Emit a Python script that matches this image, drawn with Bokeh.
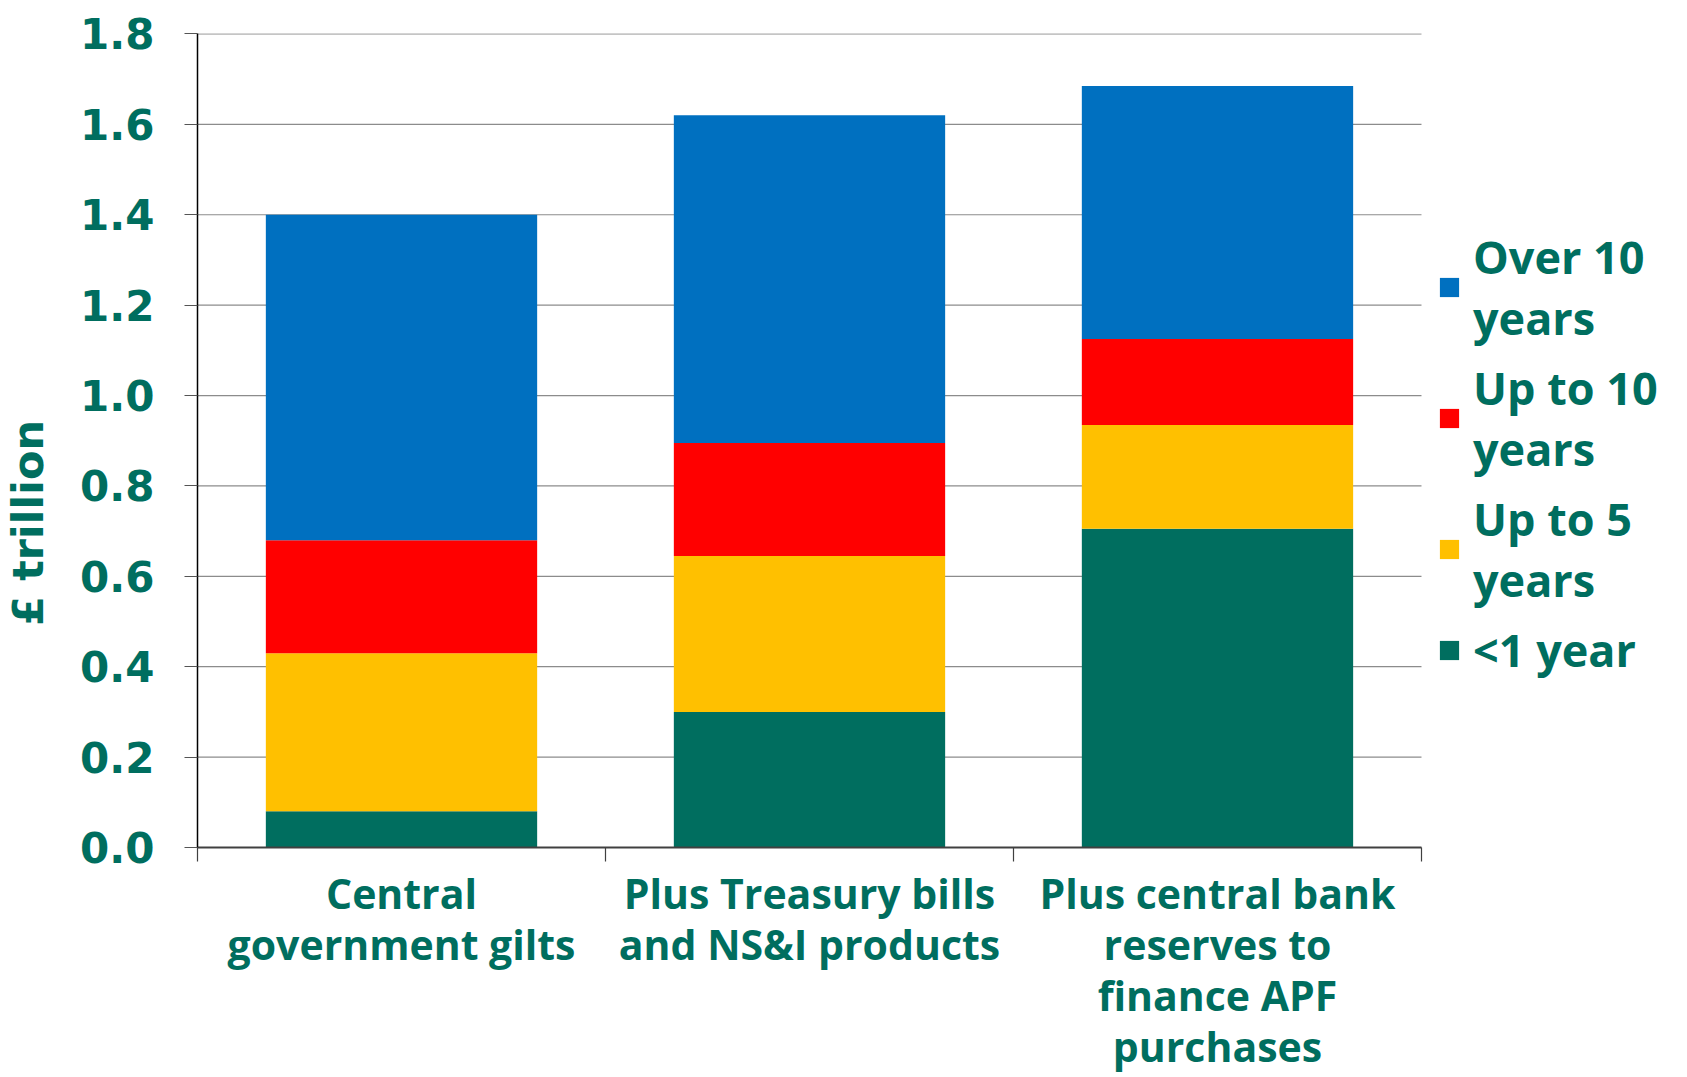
from bokeh.plotting import figure
from bokeh.models import ColumnDataSource, Range1d, FixedTicker, Legend, LegendItem, PrintfTickFormatter
from bokeh.embed import file_html
from bokeh.resources import INLINE

categories = ["Central\ngovernment gilts",
              "Plus Treasury bills\nand NS&I products",
              "Plus central bank\nreserves to\nfinance APF\npurchases"]
series = ["lt1", "up5", "up10", "over10"]
legend_labels = ["<1 year", "Up to 5\nyears", "Up to 10\nyears", "Over 10\nyears"]
lt1 = [0.08, 0.30, 0.705]
up5 = [0.35, 0.345, 0.23]
up10 = [0.25, 0.25, 0.19]
over10 = [0.72, 0.725, 0.56]
colors = ["#006E5F", "#FFC000", "#FF0000", "#0070C0"]
yticks = [0.0, 0.2, 0.4, 0.6, 0.8, 1.0, 1.2, 1.4, 1.6, 1.8]
y_title = "£ trillion"

GREEN = "#006E5F"
FONT = "DejaVu Sans"
CAT_FONT = "Open Sans"

n = len(categories)
xpos = [i + 0.5 for i in range(n)]
bounds = [i for i in range(n + 1)]
src = ColumnDataSource(dict(x=xpos, lt1=lt1, up5=up5, up10=up10, over10=over10))

# frame runs to the right edge so the legend can sit beside the bars
p = figure(width=1687, height=1077, x_range=Range1d(0, 3.652), y_range=Range1d(0, 1.801),
           output_backend="svg", toolbar_location=None,
           min_border_left=197, min_border_right=0, min_border_top=33, min_border_bottom=226)
p.outline_line_color = None
p.background_fill_color = "white"
p.xgrid.grid_line_color = None
p.ygrid.grid_line_color = None

# horizontal grid lines spanning only the category area
p.segment(x0=0, x1=n, y0=yticks, y1=yticks, line_color="#8C8C8C", line_width=1.2)

renderers = p.vbar_stack(series, x="x", width=0.665, source=src, color=colors, line_color=None)

# x axis: labels at centres, tick marks at category boundaries (minor ticks)
xa = p.xaxis[0]
xa.bounds = (0, n)
xa.ticker = FixedTicker(ticks=xpos, minor_ticks=bounds)
xa.major_tick_out = 0
xa.major_tick_in = 0
xa.minor_tick_out = 14
xa.minor_tick_in = 0
xa.minor_tick_line_color = "#404040"
xa.minor_tick_line_width = 1.2
xa.major_label_overrides = {x: c for x, c in zip(xpos, categories)}
xa.major_label_text_font = CAT_FONT
xa.major_label_text_font_style = "bold"
xa.major_label_text_font_size = "41px"
xa.major_label_text_color = GREEN
xa.major_label_text_line_height = 0.915
xa.major_label_standoff = 3
xa.axis_line_color = "#404040"
xa.axis_line_width = 2

# y axis
ya = p.yaxis[0]
ya.ticker = FixedTicker(ticks=yticks)
ya.formatter = PrintfTickFormatter(format="%.1f")
ya.major_tick_out = 13
ya.major_tick_in = 0
ya.minor_tick_out = 0
ya.minor_tick_in = 0
ya.axis_line_color = "black"
ya.axis_line_width = 1.5
ya.major_tick_line_color = "#555555"
ya.major_label_text_font = FONT
ya.major_label_text_font_style = "bold"
ya.major_label_text_font_size = "42px"
ya.major_label_text_color = GREEN
ya.major_label_standoff = 30
# trailing no-break spaces push the rotated title lower, as in the original
ya.axis_label = y_title + "\u00a0" * 11
ya.axis_label_text_font = FONT
ya.axis_label_text_font_style = "bold"
ya.axis_label_text_font_size = "43px"
ya.axis_label_text_color = GREEN
ya.axis_label_standoff = 24

# legend
items = [LegendItem(label=legend_labels[i], renderers=[renderers[i]]) for i in reversed(range(4))]
legend = Legend(items=items, location=(1240, 167), padding=0, margin=0, spacing=9,
                glyph_width=24, glyph_height=24, label_standoff=12,
                label_text_font=CAT_FONT, label_text_font_style="bold", label_text_font_size="45px",
                label_text_color=GREEN,
                border_line_color=None, background_fill_alpha=0)
p.add_layout(legend, "center")

open("out.html", "w").write(file_html(p, INLINE))
